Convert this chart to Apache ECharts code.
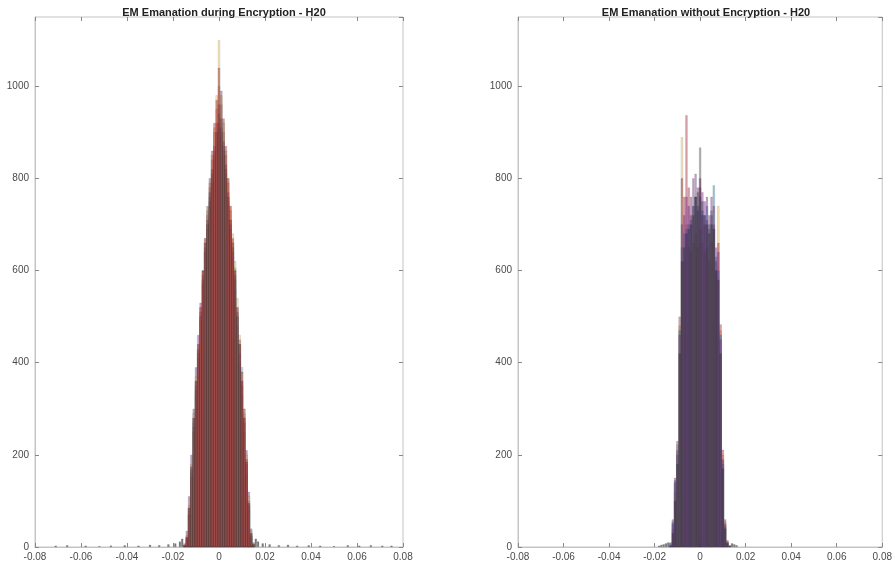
<!DOCTYPE html>
<html><head><meta charset="utf-8">
<script src="https://cdn.jsdelivr.net/npm/echarts@6/dist/echarts.min.js"></script>
<style>html,body{margin:0;padding:0;background:#fff}#c{width:895px;height:566px}</style>
</head><body><div id="c"></div>
<script>
// ---- data ----
const titles = ['EM Emanation during Encryption - H20', 'EM Emanation without Encryption - H20'];
const xTicks = [-0.08, -0.06, -0.04, -0.02, 0, 0.02, 0.04, 0.06, 0.08];
const yTicks = [0, 200, 400, 600, 800, 1000];

const binsLeft = [-0.015,-0.014,-0.013,-0.012,-0.011,-0.010,-0.009,-0.008,-0.007,-0.006,-0.005,-0.004,-0.003,-0.002,-0.001,0,
  0.001,0.002,0.003,0.004,0.005,0.006,0.007,0.008,0.009,0.010,0.011,0.012,0.013,0.014,0.015];
const leftGreen  = [2,15,70,160,250,330,410,490,570,640,700,750,800,850,900,920,900,860,810,760,710,660,606,480,400,330,250,160,80,20,4];
const leftCyan   = [3,20,80,165,270,350,425,500,575,640,690,740,790,840,880,910,890,850,800,750,690,630,560,500,440,390,290,190,95,28,6];
const leftBlue   = [4,22,85,170,280,360,430,510,590,650,700,760,810,860,900,940,910,870,820,760,700,640,580,500,420,350,270,180,90,25,5];
const leftPurple = [8,35,110,200,300,390,460,530,600,660,710,770,820,870,920,960,930,880,830,770,710,650,590,510,450,380,300,210,120,40,10];
const leftYellow = [5,25,90,180,290,370,440,520,600,670,730,790,850,910,980,1100,980,920,860,800,740,680,620,540,460,380,300,200,110,35,8];
const leftOrange = [3,18,70,150,260,340,420,500,580,660,720,780,840,900,950,1000,960,900,850,790,730,660,600,520,440,360,280,190,100,30,6];
const leftRed    = [4,22,85,175,280,360,440,520,600,670,740,800,860,920,970,1040,990,930,870,800,740,670,600,520,440,360,280,185,95,30,6];
const leftTailX  = [-0.071,-0.066,-0.058,-0.052,-0.047,-0.041,-0.035,-0.030,-0.026,-0.022,-0.019,-0.017,-0.016,
  0.016,0.017,0.019,0.022,0.026,0.030,0.034,0.039,0.044,0.050,0.056,0.061,0.066,0.071,0.075];
const leftTailY  = [3,4,3,2,3,4,3,5,4,6,8,12,18,18,12,8,6,4,5,3,4,3,2,4,3,4,3,3];

const binsRight = [-0.013,-0.012,-0.011,-0.010,-0.009,-0.008,-0.007,-0.006,-0.005,-0.004,-0.003,-0.002,-0.001,0,
  0.001,0.002,0.003,0.004,0.005,0.006,0.007,0.008,0.009,0.010,0.011,0.012,0.013];
const rightYellow = [2,40,120,222,480,889,620,700,650,640,660,680,650,690,660,640,650,620,660,690,600,740,470,200,55,10,2];
const rightRed    = [5,60,150,200,500,800,760,937,780,720,740,760,730,780,720,700,710,690,720,700,620,660,483,211,60,15,3];
const rightBlue   = [10,55,145,210,470,650,680,690,700,710,740,760,740,760,730,720,740,700,730,785,630,600,460,180,45,10,2];
const rightPurple = [8,50,140,230,460,700,720,760,740,760,800,810,780,800,770,750,760,720,760,740,650,640,450,190,50,12,4];
const rightBlack  = [3,30,100,180,420,620,650,680,690,700,720,760,770,867,750,720,700,680,700,690,600,580,420,170,40,8,1];
const rightTailX  = [-0.018,-0.017,-0.016,-0.015,-0.014,0.014,0.015,0.016];
const rightTailY  = [3,5,6,8,10,8,6,4];

// ---- colours ----
const C = {
  blue: 'rgba(0,114,189,0.4)', orange: 'rgba(217,83,25,0.22)', yellow: 'rgba(237,177,32,0.32)',
  purple: 'rgba(126,47,142,0.45)', green: 'rgba(119,172,48,0.38)', cyan: 'rgba(77,190,238,0.38)',
  red: 'rgba(162,20,47,0.4)', black: 'rgba(30,30,30,0.34)', tail: 'rgba(40,40,40,0.6)'
};

function zip(xs, ys) { return xs.map((x, i) => [x, ys[i]]); }
function barSeries(xi, xs, ys, color) {
  return {
    type: 'bar', xAxisIndex: xi, yAxisIndex: xi, data: zip(xs, ys),
    barWidth: 2.3, barGap: '-100%', silent: true,
    itemStyle: { color: color, borderColor: 'rgba(40,40,40,0.25)', borderWidth: 0.5 }
  };
}

const grids = [
  { left: 35, right: 492, top: 17, bottom: 19, show: true, borderColor: '#c4c4c4', borderWidth: 1 },
  { left: 518, right: 10, top: 17, bottom: 19, show: true, borderColor: '#c4c4c4', borderWidth: 1 }
];
const lblFont = { fontFamily: 'Liberation Sans, Arial, sans-serif', fontSize: 10, color: '#4a4a4a' };

function fmtX(v) { return String(Math.round(v * 100) / 100); }
function fmtY(v) { return yTicks.indexOf(Math.round(v)) >= 0 ? String(Math.round(v)) : ''; }

const tickIn = { show: true, inside: true, length: 4, lineStyle: { color: '#888' } };
const tickMirror = { show: true, inside: false, length: -4, lineStyle: { color: '#888' } };
const xAxes = [], yAxes = [];
[0, 1].forEach(i => {
  xAxes.push({
    type: 'value', gridIndex: i, position: 'bottom', min: xTicks[0], max: xTicks[xTicks.length - 1], interval: 0.02,
    axisLine: { show: true, onZero: false, lineStyle: { color: '#c4c4c4' } },
    axisTick: tickIn,
    axisLabel: Object.assign({ formatter: fmtX, margin: 5 }, lblFont),
    splitLine: { show: false }
  });
  yAxes.push({
    type: 'value', gridIndex: i, position: 'left', min: 0, max: 1150, interval: 200,
    axisLine: { show: true, onZero: false, lineStyle: { color: '#c4c4c4' } },
    axisTick: tickIn,
    axisLabel: Object.assign({ formatter: fmtY, margin: 6, showMaxLabel: false }, lblFont),
    splitLine: { show: false }
  });
});
// mirrored tick axes (top / right)
[0, 1].forEach(i => {
  xAxes.push({
    type: 'value', gridIndex: i, position: 'top', min: xTicks[0], max: xTicks[xTicks.length - 1], interval: 0.02,
    axisLine: { show: false, onZero: false }, axisLabel: { show: false }, splitLine: { show: false },
    axisTick: tickMirror
  });
  yAxes.push({
    type: 'value', gridIndex: i, position: 'right', min: 0, max: 1150, interval: 200,
    axisLine: { show: false, onZero: false }, axisLabel: { show: false }, splitLine: { show: false },
    axisTick: tickMirror
  });
});

const series = [
  barSeries(0, leftTailX, leftTailY, C.tail),
  barSeries(0, binsLeft, leftGreen, C.green),
  barSeries(0, binsLeft, leftCyan, C.cyan),
  barSeries(0, binsLeft, leftBlue, C.blue),
  barSeries(0, binsLeft, leftPurple, C.purple),
  barSeries(0, binsLeft, leftYellow, C.yellow),
  barSeries(0, binsLeft, leftOrange, C.orange),
  barSeries(0, binsLeft, leftRed, C.red),
  barSeries(1, rightTailX, rightTailY, C.tail),
  barSeries(1, binsRight, rightYellow, C.yellow),
  barSeries(1, binsRight, rightRed, C.red),
  barSeries(1, binsRight, rightBlue, C.blue),
  barSeries(1, binsRight, rightPurple, C.purple),
  barSeries(1, binsRight, rightBlack, C.black)
];

const chart = echarts.init(document.getElementById('c'), null, { renderer: 'canvas' });
chart.setOption({
  animation: false,
  backgroundColor: '#ffffff',
  title: [
    { text: titles[0], left: 219, top: 2, textAlign: 'center',
      textStyle: { fontFamily: 'Liberation Sans, Arial, sans-serif', fontSize: 11, fontWeight: 'bold', color: '#222' } },
    { text: titles[1], left: 701, top: 2, textAlign: 'center',
      textStyle: { fontFamily: 'Liberation Sans, Arial, sans-serif', fontSize: 11, fontWeight: 'bold', color: '#222' } }
  ],
  grid: grids,
  xAxis: xAxes,
  yAxis: yAxes,
  series: series
});
</script>
</body></html>
